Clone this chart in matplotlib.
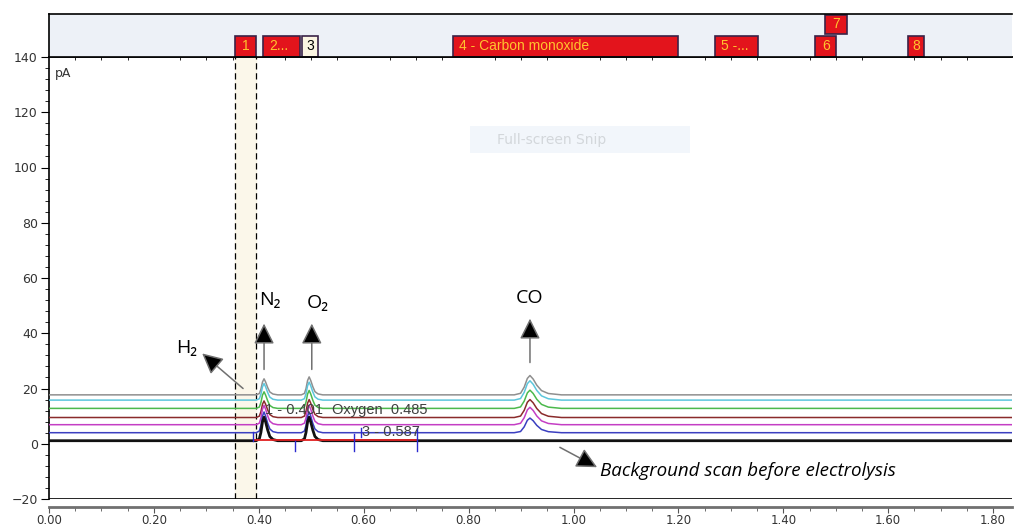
import numpy as np
import matplotlib.pyplot as plt
from matplotlib.patches import Rectangle
from matplotlib.ticker import MultipleLocator

# ---- data ----
# traces from top (latest run) to bottom (background scan)
baseline  = [17.7, 15.8, 12.8, 9.5, 6.9, 4.0, 1.1]
n2_height = [5.8, 6.0, 6.0, 6.0, 7.0, 7.5, 8.5]
o2_height = [6.5, 6.5, 6.5, 6.5, 7.0, 7.5, 8.5]
co_height = [7.0, 7.0, 6.6, 6.5, 6.3, 5.3, 0.0]
n2_rt, o2_rt, co_rt = 0.410, 0.496, 0.917

# peak profile (offset from retention time, fraction of height)
narrow_dx = [-0.015, -0.009, -0.006, -0.003, 0.0, 0.003, 0.007, 0.011, 0.017, 0.026]
narrow_h  = [0.0, 0.08, 0.35, 0.80, 1.0, 0.80, 0.45, 0.18, 0.05, 0.0]
wide_dx   = [-0.030, -0.018, -0.011, -0.005, 0.0, 0.006, 0.013, 0.022, 0.035, 0.060]
wide_h    = [0.0, 0.08, 0.40, 0.85, 1.0, 0.82, 0.50, 0.22, 0.07, 0.0]

red_span = [0.393, 0.700]
red_level = 1.2

# integration marks: x, y0, y1
mark_x  = [0.389, 0.469, 0.582, 0.594, 0.702]
mark_y0 = [1.1, -2.5, -2.5, 2.5, -2.5]
mark_y1 = [4.3, 1.1, 3.6, 5.8, 5.8]

# peak name boxes in the top band: label, x0, x1, row
box_labels = ['1', '2...', '3', '4 - Carbon monoxide', '5 -...', '6', '7', '8']
box_x0 = [0.355, 0.408, 0.482, 0.770, 1.270, 1.461, 1.480, 1.638]
box_x1 = [0.395, 0.479, 0.513, 1.199, 1.352, 1.501, 1.522, 1.669]
box_row = [0, 0, 0, 0, 0, 0, 1, 0]

window = [0.355, 0.395]

colors = ['#8f8f8f', '#5cc6dc', '#4cb94c', '#8a2b2b', '#c43ec4', '#3b3fc0', '#111111']
widths = [1.1, 1.1, 1.1, 1.1, 1.1, 1.1, 2.0]

XMAX = 1.836

fig = plt.figure(figsize=(10.2, 5.26), dpi=100)
ax = fig.add_axes([49/1020, 1-499/526, (1012-49)/1020, (499-57)/526])
band = fig.add_axes([49/1020, 1-57/526, (1012-49)/1020, 43/526], sharex=ax)

# ---- traces ----
for i in range(len(baseline)):
    xs = [0.0]
    ys = [baseline[i]]
    for rt, h, dx, prof in [(n2_rt, n2_height[i], narrow_dx, narrow_h),
                            (o2_rt, o2_height[i], narrow_dx, narrow_h),
                            (co_rt, co_height[i], wide_dx, wide_h)]:
        for d, p in zip(dx, prof):
            xs.append(rt + d)
            ys.append(baseline[i] + h * p)
    xs.append(XMAX)
    ys.append(baseline[i])
    ax.plot(xs, ys, color=colors[i], lw=widths[i], zorder=3 + i * 0.1)

ax.plot(red_span, [red_level, red_level], color='#e02020', lw=1.3, zorder=4)
for x, y0, y1 in zip(mark_x, mark_y0, mark_y1):
    ax.plot([x, x], [y0, y1], color='#2a2ad0', lw=1, zorder=4)

# window lines
ax.axvspan(window[0], window[1], color='#fbf7ea', zorder=0)
for x in window:
    ax.axvline(x, color='black', lw=0.9, ls=(0, (5, 3)), zorder=2)

# result text
ax.text(0.412, 12.3, '1 - 0.401', fontsize=10.5, color='#404040', va='center',
        family='Liberation Sans', zorder=5)
ax.text(0.540, 12.3, 'Oxygen  0.485', fontsize=10.5, color='#404040', va='center',
        family='Liberation Sans', zorder=5)
ax.text(0.597, 4.2, '3 - 0.587', fontsize=10.5, color='#404040', va='center',
        family='Liberation Sans', zorder=5)

# faint overlay box
ax.add_patch(Rectangle((0.803, 105.2), 0.419, 9.8, facecolor='#f2f6fb',
                       edgecolor='none', zorder=1))
ax.text(0.854, 110.1, 'Full-screen Snip', fontsize=10, color='#d3d7db', va='center', zorder=2)

ax.text(0.012, 136.5, 'pA', fontsize=9, color='#333333', va='top')

# ---- annotations ----
fam = ['Open Sans', 'DejaVu Sans']
akw = dict(arrowstyle='-|>,head_length=0.9,head_width=0.45', fc='black', ec='#707070',
           lw=1.1, mutation_scale=14, shrinkA=0, shrinkB=0)
for lab, x, ly, y0, y1 in [('N\u2082', 0.410, 52.2, 26.9, 43.5),
                           ('O\u2082', 0.501, 50.9, 26.9, 43.5),
                           ('CO', 0.917, 52.9, 29.4, 45.3)]:
    ax.annotate('', xy=(x, y1), xytext=(x, y0), arrowprops=akw, zorder=6)
    ax.text(x + (0.012 if lab != 'CO' else 0), ly, lab, fontsize=14, family=fam,
            ha='center', va='center', zorder=6)

ax.annotate('', xy=(0.292, 32.7), xytext=(0.370, 20.0), arrowprops=akw, zorder=6)
ax.text(0.263, 34.5, 'H\u2082', fontsize=14, family=fam, ha='center', va='center')
ax.annotate('', xy=(1.045, -8.5), xytext=(0.974, -1.3), arrowprops=akw, zorder=6)
ax.text(1.051, -9.8, 'Background scan before electrolysis', fontsize=13.5, family=fam,
        style='italic', va='center')

# ---- axes styling ----
ax.set_xlim(0, XMAX)
ax.set_ylim(-20, 140)
ax.yaxis.set_major_locator(MultipleLocator(20))
ax.yaxis.set_minor_locator(MultipleLocator(4))
ax.xaxis.set_major_locator(MultipleLocator(0.2))
ax.xaxis.set_minor_locator(MultipleLocator(0.05))
ax.xaxis.set_major_formatter(plt.FuncFormatter(lambda v, p: '%.2f' % v))
ax.tick_params(axis='y', which='major', length=6, direction='out', labelsize=9,
               labelcolor='#333333', pad=2)
ax.tick_params(axis='y', which='minor', length=3, direction='out')
ax.tick_params(axis='x', which='major', length=4, direction='out', labelsize=8.5,
               labelcolor='#333333', color='#555555', pad=1)
ax.tick_params(axis='x', which='minor', length=3, direction='out', color='#555555')
ax.spines['right'].set_visible(False)
ax.spines['bottom'].set_position(('outward', 6))
ax.spines['bottom'].set_color('#707070')
ax.spines['bottom'].set_linewidth(2)
ax.axhline(-20, color='black', lw=1.2, zorder=2)
ax.spines['left'].set_linewidth(1.2)
ax.spines['top'].set_linewidth(1.2)

# ---- top band with peak boxes ----
band.set_facecolor('#edf1f7')
band.set_ylim(0, 43)
band.spines['right'].set_visible(False)
band.tick_params(left=False, bottom=False, labelleft=False, labelbottom=False)
for lab, x0, x1, row in zip(box_labels, box_x0, box_x1, box_row):
    y0 = 0 if row == 0 else 23
    h = 21 if row == 0 else 19
    fc = '#fbf5e2' if lab == '3' else '#e3141c'
    tc = 'black' if lab == '3' else '#ffc42e'
    band.add_patch(Rectangle((x0, y0), x1 - x0, h, facecolor=fc, edgecolor='#3a2348', lw=1.2))
    band.text((x0 + x1) / 2 if len(lab) < 3 else x0 + 0.012, y0 + h / 2 + 0.5, lab,
              fontsize=10, color=tc, ha='center' if len(lab) < 3 else 'left',
              va='center', family='Liberation Sans')
for s in ['top', 'left', 'bottom']:
    band.spines[s].set_linewidth(1.2)

fig.savefig('out.png', dpi=100)
